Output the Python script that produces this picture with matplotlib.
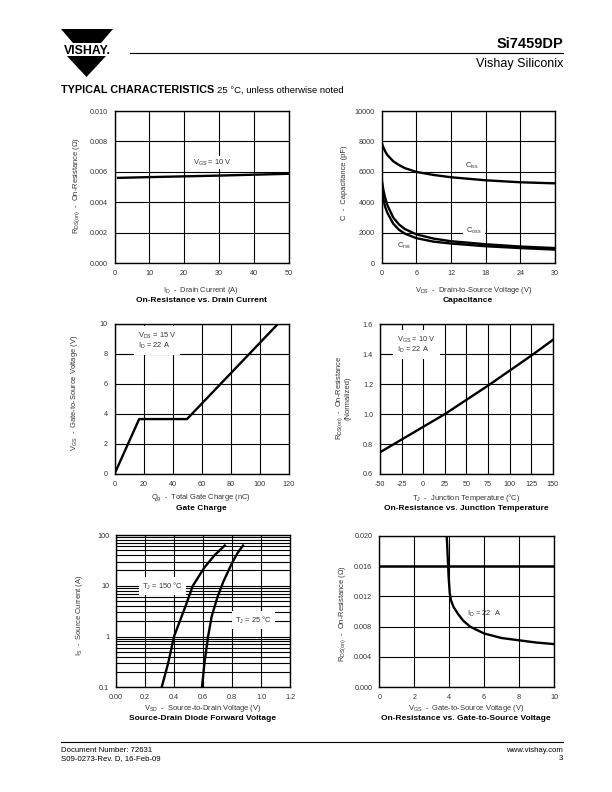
import matplotlib
matplotlib.use('Agg')
import matplotlib.pyplot as plt
from matplotlib.patches import Polygon
from matplotlib.ticker import FixedLocator

plt.rcParams['font.family'] = ['Liberation Sans', 'DejaVu Sans']
plt.rcParams['mathtext.fontset'] = 'custom'
plt.rcParams['mathtext.rm'] = 'Liberation Sans'
plt.rcParams['mathtext.it'] = 'Liberation Sans:italic'
plt.rcParams['mathtext.bf'] = 'Liberation Sans:bold'

# ---------------- data ----------------
# On-Resistance vs. Drain Current
id_current = [1, 10, 20, 30, 40, 50]
rds_vs_id = [0.00560, 0.00565, 0.00570, 0.00575, 0.00581, 0.00587]

# Capacitance
vds_cap = [0, 0.3, 0.6, 1, 2, 3, 4, 6, 9, 12, 18, 24, 30]
ciss = [7900, 7600, 7350, 7100, 6700, 6450, 6250, 6000, 5800, 5650, 5450, 5320, 5250]
coss = [5500, 4800, 4300, 3800, 3000, 2550, 2250, 1900, 1620, 1450, 1250, 1100, 1000]
crss = [5000, 4200, 3700, 3300, 2600, 2200, 1950, 1650, 1420, 1300, 1120, 1000, 900]

# Gate Charge
qg = [0, 17, 50, 113]
vgs_qg = [0, 3.65, 3.65, 10]

# On-Resistance vs. Junction Temperature
tj = [-50, -25, 0, 25, 50, 75, 100, 125, 150]
rds_norm = [0.745, 0.83, 0.915, 1.0, 1.095, 1.19, 1.29, 1.39, 1.495]

# Source-Drain Diode Forward Voltage
vsd_150 = [0.315, 0.36, 0.40, 0.44, 0.48, 0.53, 0.61, 0.68, 0.75]
is_150 = [0.1, 0.3, 1, 2, 4, 10, 23, 40, 62]
vsd_25 = [0.593, 0.61, 0.635, 0.66, 0.70, 0.74, 0.80, 0.84, 0.876]
is_25 = [0.1, 0.3, 1, 2.5, 6, 12, 28, 45, 62]

# On-Resistance vs. Gate-to-Source Voltage
vgs_r = [3.86, 3.92, 3.97, 4.03, 4.1, 4.25, 4.5, 4.8, 5.2, 6, 7, 8, 9, 10]
rds_vs_vgs = [0.020, 0.017, 0.0145, 0.0125, 0.0115, 0.0106, 0.0097, 0.0088,
              0.0080, 0.0071, 0.0065, 0.0062, 0.0059, 0.0057]

# ---------------- figure ----------------
W, H = 612, 792
fig = plt.figure(figsize=(W / 100, H / 100), dpi=100)

LW = 1.7
GRID_LW = 0.8
TICK_FS = 5.2
LAB_FS = 5.4
TITLE_FS = 6.0
GRAY = '#333333'


def px_axes(left, top, right, bottom):
    return fig.add_axes([left / W, 1 - bottom / H, (right - left) / W, (bottom - top) / H])


def ftext(x, y, s, **kw):
    return fig.text(x / W, 1 - y / H, s, **kw)


def style(ax, xticks, xlabels, yticks, ylabels, xlim, ylim):
    ax.set_xlim(*xlim)
    ax.set_ylim(*ylim)
    ax.set_xticks(xticks)
    ax.set_xticklabels(xlabels)
    ax.set_yticks(yticks)
    ax.set_yticklabels(ylabels)
    ax.tick_params(length=0, labelsize=TICK_FS, pad=5, colors='black', labelcolor=GRAY)
    ax.grid(True, color='black', lw=GRID_LW, zorder=1)
    ax.set_axisbelow(True)
    for s in ax.spines.values():
        s.set_linewidth(1.0)
        s.set_color('black')


def wbox(pad=1.2):
    return dict(facecolor='white', edgecolor='none', pad=pad)


# ---- Plot 1 ----
ax1 = px_axes(114.5, 111, 288.5, 263)
ax1.plot(id_current, rds_vs_id, color='black', lw=LW, zorder=3)
style(ax1, [0, 10, 20, 30, 40, 50], ['0', '10', '20', '30', '40', '50'],
      [0, 0.002, 0.004, 0.006, 0.008, 0.010],
      ['0.000', '0.002', '0.004', '0.006', '0.008', '0.010'], (0, 50), (0, 0.010))
ax1.text(28, 0.0066, r'$\mathregular{V_{GS}}$ = 10 V', fontsize=LAB_FS, ha='center', va='center',
         color=GRAY, bbox=wbox(), zorder=4)
ftext(77, 185, r'$\mathregular{R_{DS(on)}}$  -  On-Resistance ($\Omega$)', rotation=90,
      fontsize=LAB_FS, ha='center', va='center', color=GRAY)
ftext(201, 290, r'$\mathregular{I_D}$  -  Drain Current (A)', fontsize=LAB_FS, ha='center', va='center', color=GRAY)
ftext(201, 300, 'On-Resistance vs. Drain Current', fontsize=TITLE_FS, ha='center', va='center', weight='bold')

# ---- Plot 2 ----
ax2 = px_axes(381.7, 111, 555, 263.3)
ax2.plot(vds_cap, ciss, color='black', lw=LW, zorder=3)
ax2.plot(vds_cap, coss, color='black', lw=LW, zorder=3)
ax2.plot(vds_cap, crss, color='black', lw=LW, zorder=3)
style(ax2, [0, 6, 12, 18, 24, 30], ['0', '6', '12', '18', '24', '30'],
      [0, 2000, 4000, 6000, 8000, 10000], ['0', '2000', '4000', '6000', '8000', '10000'],
      (0, 30), (0, 10000))
ax2.text(15.6, 6400, r'$\mathregular{C_{iss}}$', fontsize=LAB_FS, ha='center', va='center', color=GRAY, zorder=4)
ax2.text(16.0, 2100, r'$\mathregular{C_{oss}}$', fontsize=LAB_FS, ha='center', va='center', color=GRAY,
         bbox=wbox(2.5), zorder=4)
ax2.text(3.8, 1150, r'$\mathregular{C_{rss}}$', fontsize=LAB_FS, ha='center', va='center', color=GRAY, zorder=4)
ftext(345, 183, 'C  -  Capacitance (pF)', rotation=90, fontsize=LAB_FS, ha='center', va='center', color=GRAY)
ftext(474, 290, r'$\mathregular{V_{DS}}$  -  Drain-to-Source Voltage (V)', fontsize=LAB_FS, ha='center', va='center', color=GRAY)
ftext(468, 300, 'Capacitance', fontsize=TITLE_FS, ha='center', va='center', weight='bold')

# ---- Plot 3 ----
ax3 = px_axes(114.5, 323.5, 288.5, 474)
ax3.plot(qg, vgs_qg, color='black', lw=LW, zorder=3)
style(ax3, [0, 20, 40, 60, 80, 100, 120], ['0', '20', '40', '60', '80', '100', '120'],
      [0, 2, 4, 6, 8, 10], ['0', '2', '4', '6', '8', '10'], (0, 120), (0, 10))
ax3.text(16, 8.85, r'$\mathregular{V_{DS}}$ = 15 V' + '\n' + r'$\mathregular{I_D}$ = 22 A',
         fontsize=LAB_FS, ha='left', va='center', color=GRAY, linespacing=1.0,
         bbox=wbox(3), zorder=4)
ftext(75, 393, r'$\mathregular{V_{GS}}$  -  Gate-to-Source Voltage (V)', rotation=90,
      fontsize=LAB_FS, ha='center', va='center', color=GRAY)
ftext(201, 498, r'$\mathregular{Q_g}$  -  Total Gate Charge (nC)', fontsize=LAB_FS, ha='center', va='center', color=GRAY)
ftext(201, 509, 'Gate Charge', fontsize=TITLE_FS, ha='center', va='center', weight='bold')

# ---- Plot 4 ----
ax4 = px_axes(380, 324.3, 552.7, 474)
ax4.plot(tj, rds_norm, color='black', lw=LW, zorder=3)
style(ax4, [-50, -25, 0, 25, 50, 75, 100, 125, 150],
      ['-50', '-25', '0', '25', '50', '75', '100', '125', '150'],
      [0.6, 0.8, 1.0, 1.2, 1.4, 1.6], ['0.6', '0.8', '1.0', '1.2', '1.4', '1.6'],
      (-50, 150), (0.6, 1.6))
ax4.text(-30, 1.465, r'$\mathregular{V_{GS}}$ = 10 V' + '\n' + r'$\mathregular{I_D}$ = 22 A',
         fontsize=LAB_FS, ha='left', va='center', color=GRAY, linespacing=1.0,
         bbox=wbox(3), zorder=4)
ftext(343, 398, r'$\mathregular{R_{DS(on)}}$  -  On-Resistance' + '\n(Normalized)', rotation=90,
      fontsize=LAB_FS, ha='center', va='center', color=GRAY, linespacing=1.0)
ftext(466, 498, r'$\mathregular{T_J}$  -  Junction Temperature (°C)', fontsize=LAB_FS, ha='center', va='center', color=GRAY)
ftext(466, 509, 'On-Resistance vs. Junction Temperature', fontsize=TITLE_FS, ha='center', va='center', weight='bold')

# ---- Plot 5 ----
ax5 = px_axes(116, 535, 290, 687.3)
ax5.set_yscale('log')
ax5.plot(vsd_150, is_150, color='black', lw=LW, zorder=3)
ax5.plot(vsd_25, is_25, color='black', lw=LW, zorder=3)
style(ax5, [0, 0.2, 0.4, 0.6, 0.8, 1.0, 1.2], ['0.00', '0.2', '0.4', '0.6', '0.8', '1.0', '1.2'],
      [0.1, 1, 10, 100], ['0.1', '1', '10', '100'], (0, 1.2), (0.1, 100))
minor = [m * 10 ** e for e in (-1, 0, 1) for m in range(2, 10)]
ax5.yaxis.set_minor_locator(FixedLocator(minor))
ax5.yaxis.set_minor_formatter(plt.NullFormatter())
ax5.tick_params(which='minor', length=0)
ax5.grid(True, which='both', color='black', lw=GRID_LW, zorder=1)
ax5.text(0.32, 9.8, r'$\mathregular{T_J}$ = 150 °C', fontsize=LAB_FS, ha='center', va='center', color=GRAY,
         bbox=wbox(2.5), zorder=4)
ax5.text(0.95, 2.1, r'$\mathregular{T_J}$ = 25 °C', fontsize=LAB_FS, ha='center', va='center', color=GRAY,
         bbox=wbox(2.5), zorder=4)
ftext(79, 615, r'$\mathregular{I_S}$  -  Source Current (A)', rotation=90, fontsize=LAB_FS, ha='center', va='center', color=GRAY)
ftext(203, 709, r'$\mathregular{V_{SD}}$  -  Source-to-Drain Voltage (V)', fontsize=LAB_FS, ha='center', va='center', color=GRAY)
ftext(203, 719, 'Source-Drain Diode Forward Voltage', fontsize=TITLE_FS, ha='center', va='center', weight='bold')

# ---- Plot 6 ----
ax6 = px_axes(379.3, 535.7, 554, 687.3)
ax6.plot(vgs_r, rds_vs_vgs, color='black', lw=LW, zorder=3)
style(ax6, [0, 2, 4, 6, 8, 10], ['0', '2', '4', '6', '8', '10'],
      [0, 0.004, 0.008, 0.012, 0.016, 0.020],
      ['0.000', '0.004', '0.008', '0.012', '0.016', '0.020'], (0, 10), (0, 0.020))
ax6.axhline(0.016, color='black', lw=1.8, zorder=2)
ax6.text(5.0, 0.0097, r'$\mathregular{I_D}$ = 22  A', fontsize=LAB_FS, ha='left', va='center', color=GRAY, zorder=4)
ftext(343, 613, r'$\mathregular{R_{DS(on)}}$  -  On-Resistance ($\Omega$)', rotation=90,
      fontsize=LAB_FS, ha='center', va='center', color=GRAY)
ftext(466, 709, r'$\mathregular{V_{GS}}$  -  Gate-to-Source Voltage (V)', fontsize=LAB_FS, ha='center', va='center', color=GRAY)
ftext(466, 719, 'On-Resistance vs. Gate-to-Source Voltage', fontsize=TITLE_FS, ha='center', va='center', weight='bold')

# ---------------- header ----------------
def pxy(x, y):
    return (x / W, 1 - y / H)

top_trap = Polygon([pxy(61, 29), pxy(113, 29), pxy(101, 43), pxy(73, 43)], closed=True,
                   facecolor='black', edgecolor='none', transform=fig.transFigure)
bot_tri = Polygon([pxy(67, 56), pxy(106, 56), pxy(86.5, 77)], closed=True,
                  facecolor='black', edgecolor='none', transform=fig.transFigure)
fig.patches.extend([top_trap, bot_tri])
ftext(87, 54, 'VISHAY.', fontsize=8.8, weight='bold', ha='center', va='baseline', color='black')

fig.add_artist(plt.Line2D([130 / W, 563 / W], [1 - 53 / H, 1 - 53 / H], color='black', lw=0.8,
                          transform=fig.transFigure))
ftext(563, 44, 'Si7459DP', fontsize=10.5, weight='bold', ha='right', va='center')
ftext(563, 64, 'Vishay Siliconix', fontsize=9.0, ha='right', va='center')

t1 = ftext(61, 90, 'TYPICAL CHARACTERISTICS', fontsize=7.8, weight='heavy', ha='left', va='center')
fig.canvas.draw()
bb = t1.get_window_extent()
fig.text(bb.x1 / W + 3 / W, 1 - 90 / H, '25 °C, unless otherwise noted', fontsize=6.8, ha='left', va='center')

# ---------------- footer ----------------
fig.add_artist(plt.Line2D([61 / W, 563 / W], [1 - 742 / H, 1 - 742 / H], color='black', lw=0.8,
                          transform=fig.transFigure))
ftext(61, 750, 'Document Number: 72631', fontsize=5.6, ha='left', va='center')
ftext(61, 759, 'S09-0273-Rev. D, 16-Feb-09', fontsize=5.6, ha='left', va='center')
ftext(563, 750, 'www.vishay.com', fontsize=5.6, ha='right', va='center')
ftext(563, 759, '3', fontsize=5.6, ha='right', va='center')

fig.savefig('out.png', dpi=100)
